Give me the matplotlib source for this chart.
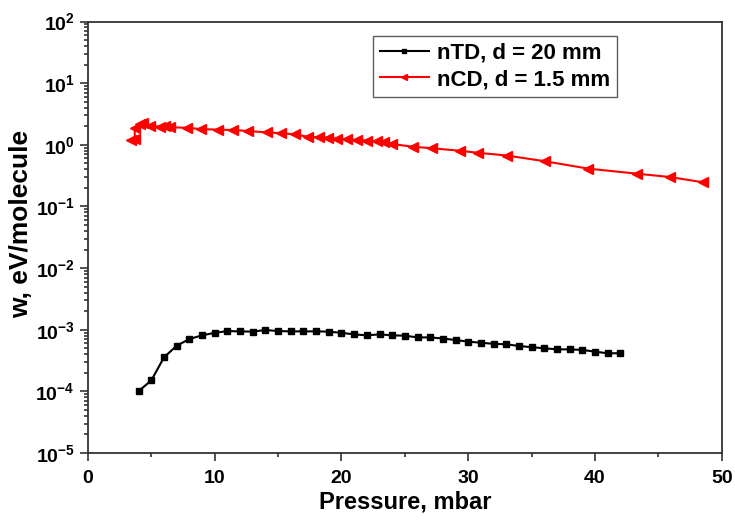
import numpy as np
import matplotlib
matplotlib.use("Agg")
import matplotlib.pyplot as plt
from matplotlib.ticker import MultipleLocator, LogLocator, FuncFormatter, NullFormatter

plt.rcParams['font.family'] = ['Liberation Sans', 'DejaVu Sans']
plt.rcParams['font.weight'] = 'bold'
plt.rcParams['mathtext.fontset'] = 'custom'
plt.rcParams['mathtext.rm'] = 'Liberation Sans:bold'
plt.rcParams['mathtext.bf'] = 'Liberation Sans:bold'

# nTD, d = 20 mm
p_ntd = [4, 5, 6, 7, 8, 9, 10, 11, 12, 13, 14, 15, 16, 17, 18, 19, 20, 21, 22,
         23, 24, 25, 26, 27, 28, 29, 30, 31, 32, 33, 34, 35, 36, 37, 38, 39,
         40, 41, 42]
w_ntd = [1.01e-4, 1.51e-4, 3.57e-4, 5.5e-4, 7.06e-4, 8.1e-4, 8.9e-4, 9.5e-4,
         9.4e-4, 9.3e-4, 9.9e-4, 9.5e-4, 9.4e-4, 9.4e-4, 9.4e-4, 9.3e-4,
         8.9e-4, 8.4e-4, 8.1e-4, 8.4e-4, 8.1e-4, 8.0e-4, 7.5e-4, 7.5e-4,
         7.2e-4, 6.8e-4, 6.4e-4, 6.15e-4, 5.9e-4, 5.8e-4, 5.45e-4, 5.2e-4,
         5.0e-4, 4.8e-4, 4.8e-4, 4.7e-4, 4.4e-4, 4.15e-4, 4.15e-4]

# nCD, d = 1.5 mm
p_ncd = [3.39, 3.69, 3.69, 4.10, 4.38, 4.89, 5.68, 6.08, 6.47, 7.79, 8.89,
         10.24, 11.47, 12.65, 14.15, 15.23, 16.33, 17.33, 18.25, 18.96, 19.62,
         20.41, 21.2, 22.03, 22.78, 23.36, 23.95, 25.66, 27.11, 29.35, 30.8,
         33.03, 36.06, 39.48, 43.3, 45.9, 48.55]
w_ncd = [1.20, 1.22, 1.87, 2.17, 2.23, 2.04, 1.96, 2.02, 1.92, 1.89, 1.80,
         1.76, 1.74, 1.67, 1.59, 1.54, 1.48, 1.35, 1.32, 1.30, 1.26, 1.23,
         1.20, 1.17, 1.14, 1.10, 1.03, 0.93, 0.88, 0.80, 0.74, 0.67, 0.54,
         0.41, 0.34, 0.30, 0.246]

fig = plt.figure(figsize=(7.35, 5.22), dpi=100)
ax = fig.add_axes([0.1197, 0.1322, 0.8623, 0.8266])

ax.plot(p_ntd, w_ntd, color='black', lw=1.5, marker='s', ms=4.5,
        label='nTD, d = 20 mm')
ax.plot(p_ncd, w_ncd, color='red', lw=1.5, marker='<', ms=7,
        label='nCD, d = 1.5 mm')

ax.set_yscale('log')
ax.set_xlim(0, 50)
ax.set_ylim(1e-5, 1e2)

ax.xaxis.set_major_locator(MultipleLocator(10))
ax.xaxis.set_minor_locator(MultipleLocator(5))
ax.yaxis.set_major_locator(LogLocator(base=10, numticks=20))
ax.yaxis.set_minor_locator(LogLocator(base=10, subs=np.arange(2, 10), numticks=20))
ax.yaxis.set_major_formatter(FuncFormatter(lambda v, pos: r'$\mathbf{10^{%d}}$' % round(np.log10(v))))
ax.yaxis.set_minor_formatter(NullFormatter())

ax.tick_params(which='both', direction='out', top=False, right=False,
               labelsize=14, width=1.2, color='#333333')
ax.tick_params(which='major', length=6)
ax.tick_params(which='minor', length=3)
ax.tick_params(axis='x', pad=6)
for lbl in ax.get_xticklabels():
    lbl.set_fontweight('bold')

for s in ax.spines.values():
    s.set_linewidth(1.3)
    s.set_color('#333333')

ax.set_xlabel('Pressure, mbar', fontsize=17, fontweight='bold', labelpad=3)
ax.set_ylabel('w, eV/molecule', fontsize=19, fontweight='bold')
ax.yaxis.set_label_coords(-0.087, 0.53)

leg = ax.legend(loc='upper left', bbox_to_anchor=(0.4497, 0.9664), fontsize=16,
                frameon=True, fancybox=False, edgecolor='#333333',
                handlelength=2.2, borderpad=0.3, labelspacing=0.25,
                handletextpad=0.4, markerscale=0.7, borderaxespad=0)
leg.get_frame().set_linewidth(1.0)
for t in leg.get_texts():
    t.set_fontweight('bold')

fig.savefig('out.png', dpi=100)
